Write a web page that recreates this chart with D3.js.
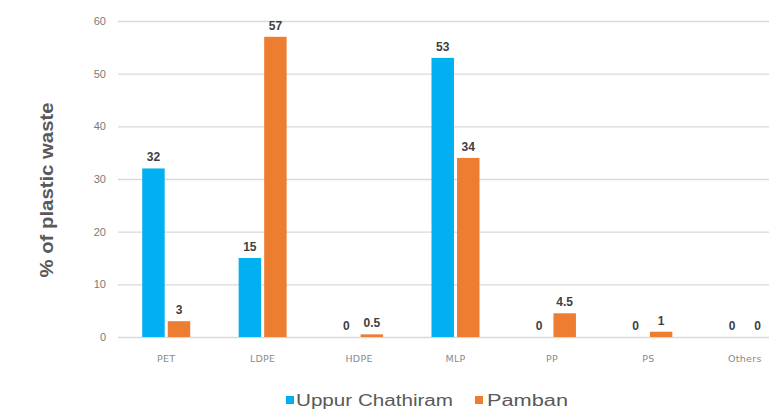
<!DOCTYPE html>
<html>
<head>
<meta charset="utf-8">
<script src="https://cdn.jsdelivr.net/npm/d3@7"></script>
<style>
  html, body { margin: 0; padding: 0; background: #ffffff; }
  svg { display: block; }
</style>
</head>
<body>
<svg id="chart" width="769" height="414"></svg>
<script>
// Plastic waste composition by polymer type at two sites
const categories = ["PET", "LDPE", "HDPE", "MLP", "PP", "PS", "Others"];
const uppurChathiram = [32, 15, 0, 53, 0, 0, 0];
const pamban = [3, 57, 0.5, 34, 4.5, 1, 0];
const seriesNames = ["Uppur Chathiram", "Pamban"];
const seriesColors = ["#00b0f0", "#ed7d31"];
const yTicks = [0, 10, 20, 30, 40, 50, 60];

const svg = d3.select("#chart");
const width = 769, height = 414;
const margin = { left: 118, top: 21, bottom: 77 };
const plotRight = 793; // plot area runs past the right edge of the page

const x = d3.scaleBand().domain(categories).range([margin.left, plotRight]).paddingInner(0).paddingOuter(0);
const xSeries = d3.scaleBand().domain(seriesNames).range([x.bandwidth() / 2 - 24, x.bandwidth() / 2 + 24]).paddingInner(0.12);
const y = d3.scaleLinear().domain([0, 60]).range([height - margin.bottom, margin.top]);

// Gridlines
const yAxis = d3.axisLeft(y).tickValues(yTicks).tickSize(-(plotRight - margin.left)).tickPadding(12);
const gy = svg.append("g").attr("transform", `translate(${margin.left},0)`).call(yAxis);
gy.select(".domain").remove();
gy.selectAll(".tick line").attr("stroke", "#d9d9d9").attr("stroke-width", 1.3);
gy.selectAll(".tick text")
  .attr("fill", "#7a7a7a")
  .attr("font-family", "Liberation Sans, Arial, sans-serif")
  .attr("font-size", 11);

// Category axis
const xAxis = d3.axisBottom(x).tickSize(0).tickPadding(18);
const gx = svg.append("g").attr("transform", `translate(0,${y(0)})`).call(xAxis);
gx.select(".domain").remove();
gx.selectAll(".tick text")
  .attr("fill", "#8a8a8a")
  .attr("font-family", "DejaVu Sans, sans-serif")
  .attr("font-size", 9.5)
  .attr("letter-spacing", 0.3);

const rows = categories.map((c, i) => ({ cat: c, values: [uppurChathiram[i], pamban[i]] }));

const groups = svg.append("g").selectAll("g").data(rows).join("g")
  .attr("transform", d => `translate(${x(d.cat)},0)`);

groups.selectAll("rect").data(d => d.values.map((v, k) => ({ v, k })))
  .join("rect")
  .attr("x", d => xSeries(seriesNames[d.k]))
  .attr("width", xSeries.bandwidth())
  .attr("y", d => y(d.v))
  .attr("height", d => y(0) - y(d.v))
  .attr("fill", d => seriesColors[d.k]);

// Value labels above the bars
groups.selectAll("text.val").data(d => d.values.map((v, k) => ({ v, k })))
  .join("text")
  .attr("class", "val")
  .attr("x", d => xSeries(seriesNames[d.k]) + xSeries.bandwidth() / 2)
  .attr("y", d => y(d.v) - 7)
  .attr("text-anchor", "middle")
  .attr("fill", "#404040")
  .attr("font-family", "Liberation Sans, Arial, sans-serif")
  .attr("font-weight", "bold")
  .attr("font-size", 12)
  .text(d => d.v);

// Y axis title
svg.append("text")
  .attr("transform", `translate(53,190) rotate(-90)`)
  .attr("text-anchor", "middle")
  .attr("fill", "#595959")
  .attr("font-family", "Liberation Sans, Arial, sans-serif")
  .attr("font-weight", "bold")
  .attr("font-size", 19)
  .attr("textLength", 175)
  .attr("lengthAdjust", "spacingAndGlyphs")
  .text("% of plastic waste");

// Legend
const legendItems = [
  { name: seriesNames[0], color: seriesColors[0], sx: 286, tx: 296, len: 157 },
  { name: seriesNames[1], color: seriesColors[1], sx: 475, tx: 487, len: 81 }
];
const lg = svg.append("g");
legendItems.forEach(it => {
  lg.append("rect").attr("x", it.sx).attr("y", 396).attr("width", 8).attr("height", 8).attr("fill", it.color);
  lg.append("text")
    .attr("x", it.tx).attr("y", 406)
    .attr("fill", "#595959")
    .attr("font-family", "Liberation Sans, Arial, sans-serif")
    .attr("font-size", 16)
    .attr("textLength", it.len)
    .attr("lengthAdjust", "spacingAndGlyphs")
    .text(it.name);
});
</script>
</body>
</html>
